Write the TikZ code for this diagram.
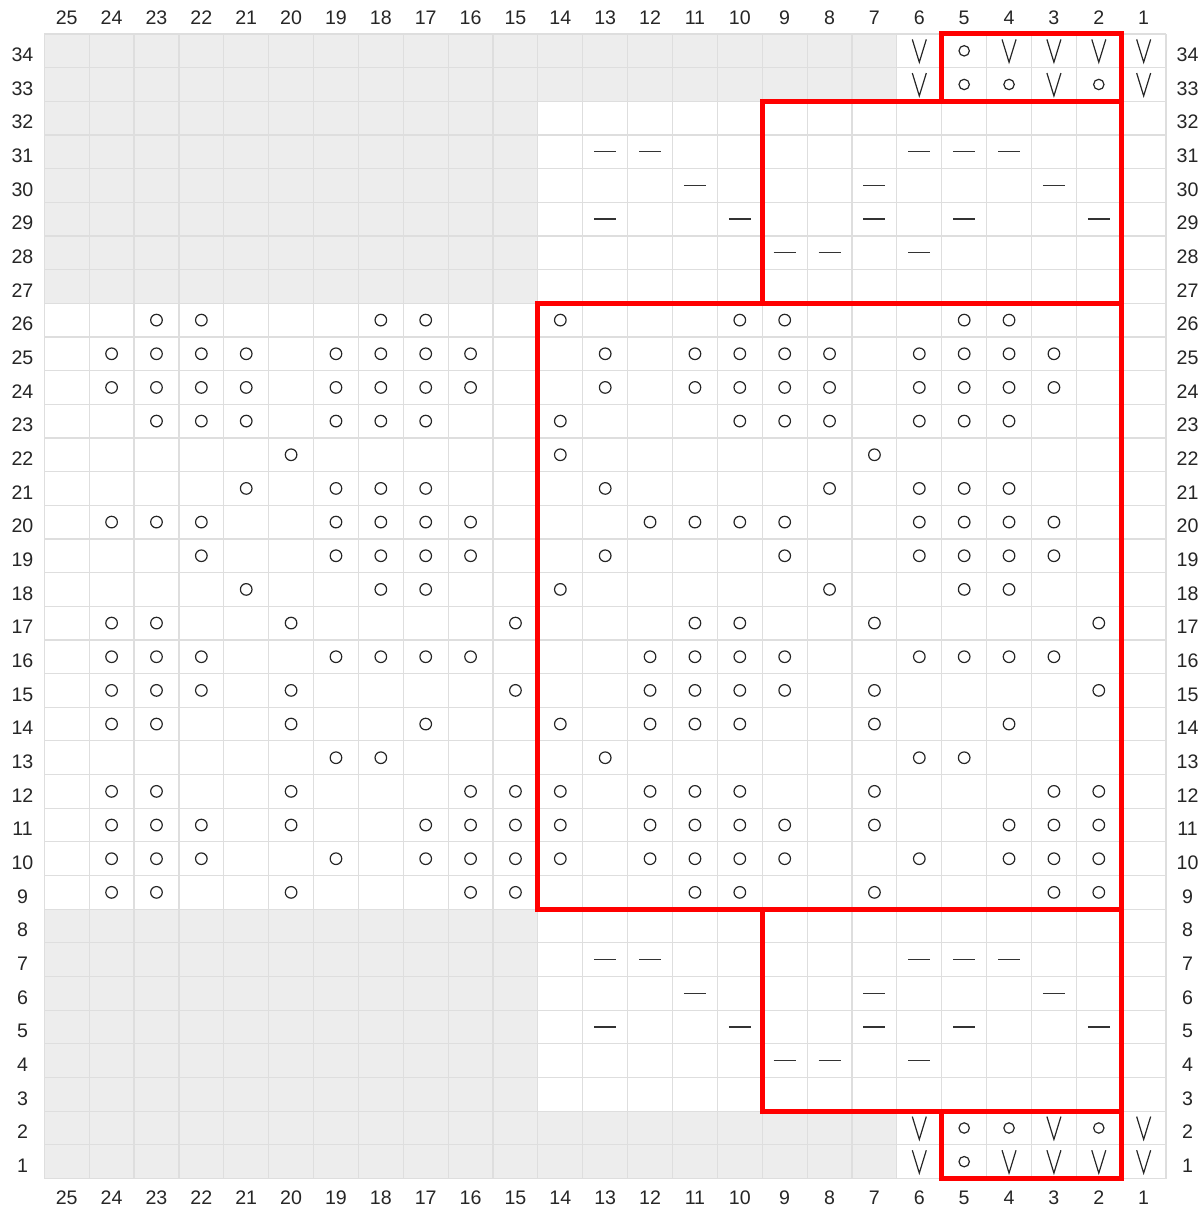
\documentclass[tikz,border=0pt]{standalone}
\usepackage{fontspec}
\setmainfont{Liberation Sans}
\usetikzlibrary{positioning}

\begin{document}
\begin{tikzpicture}[
    x=22.435pt, y=16.83pt,
    gridline/.style={draw=black!13, line width=0.6pt},
    offcell/.style={fill=black!7},
    repeatbox/.style={draw=red, line width=2.5pt, line join=miter},
    lbl/.style={font=\fontsize{9.8}{12}\selectfont, text=black!85, inner sep=0pt},
    yo/.style={draw=black!85, line width=0.6pt},
    purl/.style={draw=black!80, line width=0.65pt},
    slip/.style={draw=black!85, line width=0.6pt}
]
    \useasboundingbox (-0.987,-0.906) rectangle (25.80,35.01);

    % No-stitch cells
    \fill[offcell] (0,32) rectangle (19,34);
    \fill[offcell] (0,26) rectangle (11,32);
    \fill[offcell] (0,2) rectangle (11,8);
    \fill[offcell] (0,0) rectangle (19,2);

    % Grid
    \draw[gridline, xstep=1, ystep=1] (0,0) grid (25,34);

    % Yarn overs
    \foreach \r/\cols in {26/{23,22,18,17,14,10,9,5,4},
        25/{24,23,22,21,19,18,17,16,13,11,10,9,8,6,5,4,3},
        24/{24,23,22,21,19,18,17,16,13,11,10,9,8,6,5,4,3},
        23/{23,22,21,19,18,17,14,10,9,8,6,5,4},
        22/{20,14,7},
        21/{21,19,18,17,13,8,6,5,4},
        20/{24,23,22,19,18,17,16,12,11,10,9,6,5,4,3},
        19/{22,19,18,17,16,13,9,6,5,4,3},
        18/{21,18,17,14,8,5,4},
        17/{24,23,20,15,11,10,7,2},
        16/{24,23,22,19,18,17,16,12,11,10,9,6,5,4,3},
        15/{24,23,22,20,15,12,11,10,9,7,2},
        14/{24,23,20,17,14,12,11,10,7,4},
        13/{19,18,13,6,5},
        12/{24,23,20,16,15,14,12,11,10,7,3,2},
        11/{24,23,22,20,17,16,15,14,12,11,10,9,7,4,3,2},
        10/{24,23,22,19,17,16,15,14,12,11,10,9,6,4,3,2},
        9/{24,23,20,16,15,11,10,7,3,2}}
        \foreach \c in \cols
            \draw[yo] ({25.5-\c},{\r-0.5}) circle (2.9pt);

    % Purl stitches
    \foreach \r/\s/\cols in {31/7/{13,12,6,5,4}, 30/6/{11,7,3},
        29/5/{13,10,7,5,2}, 28/4/{9,8,6}}
        \foreach \c in \cols {
            \draw[purl] ({25.5-\c},{\r-0.5}) ++(-5.5pt,0) -- ++(11pt,0);
            \draw[purl] ({25.5-\c},{\s-0.5}) ++(-5.5pt,0) -- ++(11pt,0);
        }

    % Edge rows: slipped stitches and yarn overs
    \foreach \r/\vs/\os in {34/{6,4,3,2,1}/{5}, 1/{6,4,3,2,1}/{5},
        33/{6,3,1}/{5,4,2}, 2/{6,3,1}/{5,4,2}} {
        \foreach \c in \vs
            \draw[slip] ({25.5-\c},{\r-0.5}) ++(-3.5pt,5.7pt) -- ++(3.5pt,-11.4pt) -- ++(3.5pt,11.4pt);
        \foreach \c in \os
            \draw[yo] ({25.5-\c},{\r-0.5}) circle (2.6pt);
    }

    % Repeat outlines
    \draw[repeatbox] (20,32) rectangle (24,34);
    \draw[repeatbox] (16,26) rectangle (24,32);
    \draw[repeatbox] (11,8) rectangle (24,26);
    \draw[repeatbox] (16,2) rectangle (24,8);
    \draw[repeatbox] (20,0) rectangle (24,2);

    % Stitch and row numbers
    \foreach \c in {1,...,25} {
        \node[lbl] (ct\c) at ({25.5-\c},34.48) {\c};
        \node[lbl] (cb\c) at ({25.5-\c},-0.56) {\c};
    }
    \foreach \r in {1,...,34} {
        \node[lbl] (rl\r) at (-0.486,{\r-0.62}) {\r};
        \node[lbl] (rr\r) at (25.48,{\r-0.62}) {\r};
    }
\end{tikzpicture}
\end{document}
